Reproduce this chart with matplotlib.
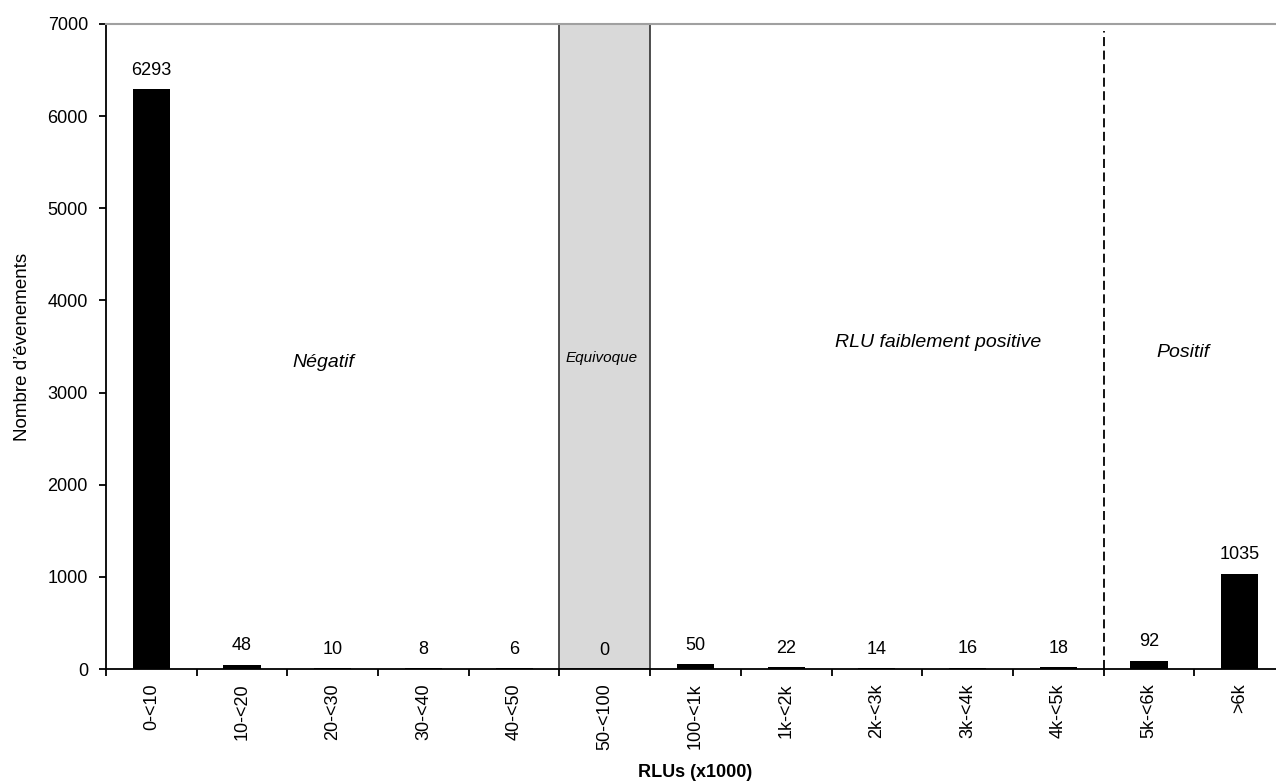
import matplotlib
matplotlib.use("Agg")
import matplotlib.pyplot as plt
import numpy as np

plt.rcParams['font.family'] = ['Liberation Sans', 'DejaVu Sans']

# classes de RLU (x1000) et nombre d'evenements
categories = ['0-<10', '10-<20', '20-<30', '30-<40', '40-<50', '50-<100',
              '100-<1k', '1k-<2k', '2k-<3k', '3k-<4k', '4k-<5k', '5k-<6k', '>6k']
counts = [6293, 48, 10, 8, 6, 0, 50, 22, 14, 16, 18, 92, 1035]

zones = ['Négatif', 'Equivoque', 'RLU faiblement positive', 'Positif']
zone_x = [1.9, 4.97, 8.67, 11.37]
zone_y = [3330, 3375, 3540, 3430]
zone_size = [14, 11, 14, 14]

fig = plt.figure(figsize=(12.76, 7.81), dpi=100)
ax = fig.add_axes([106 / 1276, 1 - 669 / 781, 1179 / 1276, 645 / 781])

x = np.arange(len(categories))

# zone equivoque en gris
ax.axvspan(4.5, 5.5, facecolor='#d9d9d9', edgecolor='#404040', linewidth=1.3, zorder=1)
# limite du positif
ax.axvline(10.5, ymin=0, ymax=0.989, color='black', linestyle=(0, (5, 2.5)), linewidth=1.3, zorder=2)

ax.bar(x, counts, width=0.41, color='black', zorder=3)

for xi, c in zip(x, counts):
    ax.text(xi, c + 110, str(c), ha='center', va='bottom', fontsize=13)

for name, zx, zy, zs in zip(zones, zone_x, zone_y, zone_size):
    ax.text(zx, zy, name, ha='center', va='center', style='italic', fontsize=zs)

ax.set_xlim(-0.5, 12.5)
ax.set_ylim(0, 7000)
ax.set_yticks(range(0, 7001, 1000))
ax.tick_params(axis='y', direction='out', length=5, width=1.3, labelsize=13, pad=8)

ax.set_xticks(x)
ax.set_xticklabels(categories, rotation=90, fontsize=13)
ax.set_xticks(np.arange(-0.5, 13, 1), minor=True)
ax.tick_params(axis='x', which='major', length=0, pad=10)
ax.tick_params(axis='x', which='minor', direction='out', length=5, width=1.3)

ax.spines['right'].set_visible(False)
ax.spines['top'].set_color('#a0a0a0')
ax.spines['top'].set_linewidth(1.5)
ax.spines['left'].set_linewidth(1.3)
ax.spines['bottom'].set_linewidth(1.3)

ax.set_ylabel("Nombre d\u2019évenements", fontsize=13.5, labelpad=12)
ax.set_xlabel('RLUs (x1000)', fontsize=13, fontweight='bold', labelpad=10)

fig.savefig('out.png', dpi=100)
